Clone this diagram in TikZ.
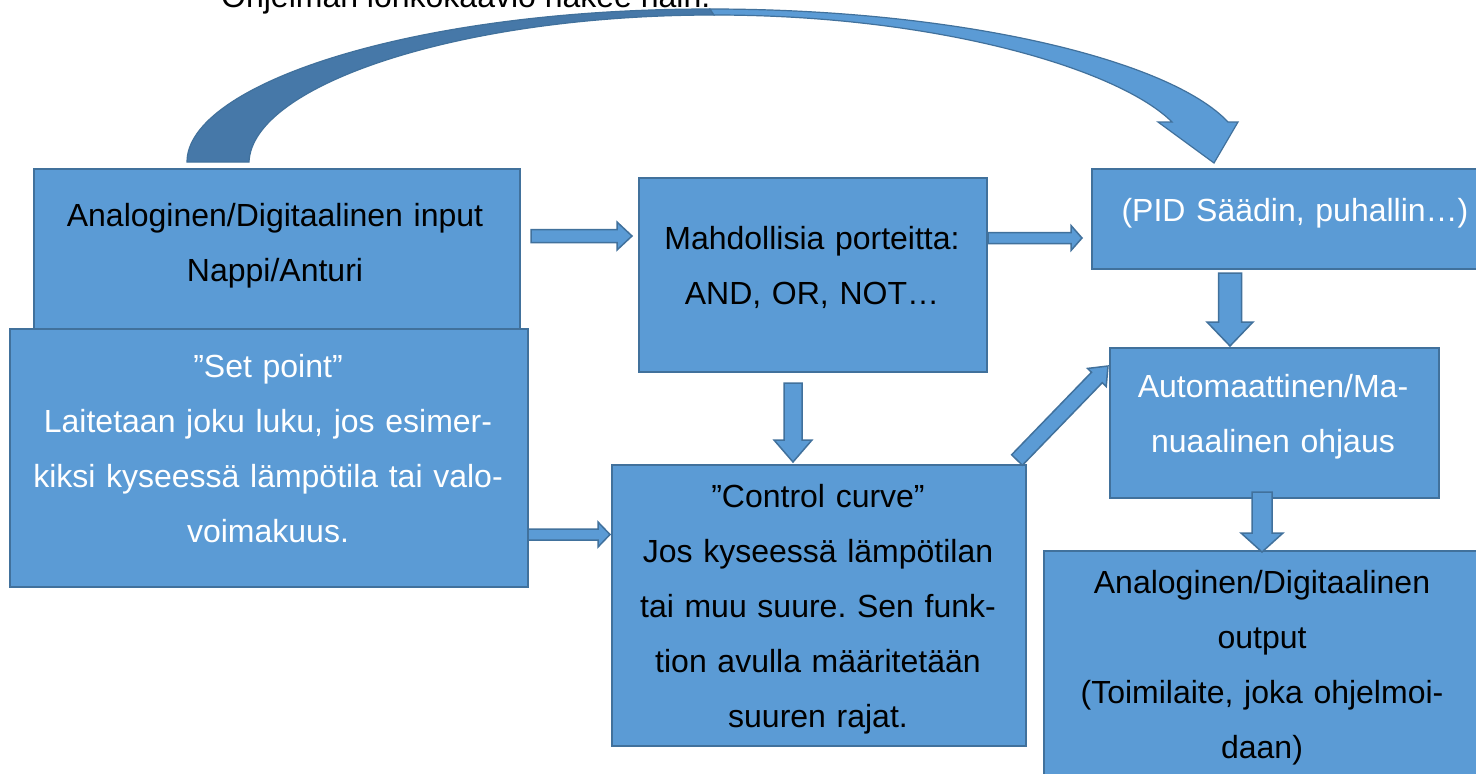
\documentclass[tikz,border=0pt]{standalone}
\usepackage{fontspec}
\setmainfont{Liberation Sans}
\usetikzlibrary{calc}
\definecolor{boxfill}{HTML}{5B9BD5}
\definecolor{boxline}{HTML}{41719C}
\definecolor{darkband}{HTML}{4678A8}
\tikzset{
  box/.style={draw=boxline, fill=boxfill, line width=2pt, inner sep=0pt, anchor=north west},
  txt/.style={font=\fontsize{32}{55}\selectfont\frenchspacing, align=center, text width=640pt, anchor=base, inner sep=0pt},
  blk/.style={txt, text=black},
  wht/.style={txt, text=white},
  barrow/.style={draw=boxline, fill=boxfill, line width=1.5pt, line join=miter},
  band/.style={draw=boxline, line width=1.2pt, line join=miter},
}
% #1 start, #2 tip, #3 half shaft width, #4 half head width, #5 head length
\newcommand\blockarr[5]{%
  \coordinate (ba-h) at ($(#2)!#5!(#1)$);
  \draw[barrow] ($(#1)!#3!90:(#2)$) -- ($(ba-h)!#3!90:(#2)$) -- ($(ba-h)!#4!90:(#2)$)
    -- (#2) -- ($(ba-h)!#4!-90:(#2)$) -- ($(ba-h)!#3!-90:(#2)$) -- ($(#1)!#3!-90:(#2)$) -- cycle;}
\begin{document}
\begin{tikzpicture}[x=1pt,y=-1pt]
\useasboundingbox (0,0) rectangle (1476,774);
\clip (0,0) rectangle (1476,774);
\fill[white] (0,0) rectangle (1476,774);

% title (cut by the top edge, as in the reference)
\node[font=\fontsize{32}{38}\selectfont, anchor=base west, inner sep=0pt] (title) at (221,7) {Ohjelman lohkokaavio näkee näin.};

% boxes
\node[box, minimum width=486pt, minimum height=164pt] (inbox) at (33,168) {};
\node[box, minimum width=518pt, minimum height=258pt] (setbox) at (9,328) {};
\node[box, minimum width=348pt, minimum height=194pt] (gates) at (638,177) {};
\node[box, minimum width=420pt, minimum height=100pt] (pid) at (1091,168) {};
\node[box, minimum width=414pt, minimum height=281pt] (ctrl) at (611,464) {};
\node[box, minimum width=329pt, minimum height=150pt] (auto) at (1109,347) {};
\node[box, minimum width=460pt, minimum height=260pt] (out) at (1043,550) {};

% texts
\node[blk] (tin) at (275,226) {Analoginen/Digitaalinen input\\Nappi/Anturi};
\node[wht] (tset) at (268,377) {”Set point”\\Laitetaan joku luku, jos esimer-\\kiksi kyseessä lämpötila tai valo-\\voimakuus.};
\node[blk] (tgates) at (812,249) {Mahdollisia porteitta:\\AND, OR, NOT…};
\node[wht] (tpid) at (1295,221) {(PID Säädin, puhallin…)};
\node[blk] (tctrl) at (818,507) {”Control curve”\\Jos kyseessä lämpötilan\\tai muu suure. Sen funk-\\tion avulla määritetään\\suuren rajat.};
\node[wht] (tauto) at (1273,397) {Automaattinen/Ma-\\nuaalinen ohjaus};
\node[blk] (tout) at (1262,593) {Analoginen/Digitaalinen\\output\\(Toimilaite, joka ohjelmoi-\\daan)};

% block arrows
\coordinate (a1s) at (531,236);   \coordinate (a1t) at (632,236);
\coordinate (a2s) at (988,238);   \coordinate (a2t) at (1082,238);
\coordinate (a3s) at (793,383);   \coordinate (a3t) at (793,462);
\coordinate (a4s) at (1230,273);  \coordinate (a4t) at (1230,346);
\coordinate (a5s) at (1262,492);  \coordinate (a5t) at (1262,552);
\coordinate (a6s) at (528,534.5); \coordinate (a6t) at (610,534.5);
\coordinate (a7s) at (1017,460);  \coordinate (a7t) at (1108,366);
\blockarr{a1s}{a1t}{6.5pt}{14pt}{15pt}
\blockarr{a2s}{a2t}{5.5pt}{12.5pt}{11pt}
\blockarr{a3s}{a3t}{9pt}{19pt}{22pt}
\blockarr{a4s}{a4t}{11.5pt}{23pt}{24pt}
\blockarr{a5s}{a5t}{10pt}{21pt}{19pt}
\blockarr{a6s}{a6t}{5.5pt}{12.5pt}{12pt}
\blockarr{a7s}{a7t}{7.5pt}{13pt}{16pt}

% curved arrow from input box to PID box
\coordinate (cfoot) at (218,162);
\coordinate (ctip) at (1214,163);
\draw[band, fill=darkband] (187,162) .. controls (187,85) and (410,9) .. (710,9)
  -- (714,15) .. controls (460,15) and (252,85) .. (249,162) -- cycle;
\draw[band, fill=boxfill] (710,9) .. controls (960,9) and (1170,60) .. (1228,122)
  -- (1238,122) -- (ctip) -- (1158,122) -- (1172,122)
  .. controls (1120,70) and (940,15) .. (714,15) -- cycle;
\end{tikzpicture}
\end{document}
